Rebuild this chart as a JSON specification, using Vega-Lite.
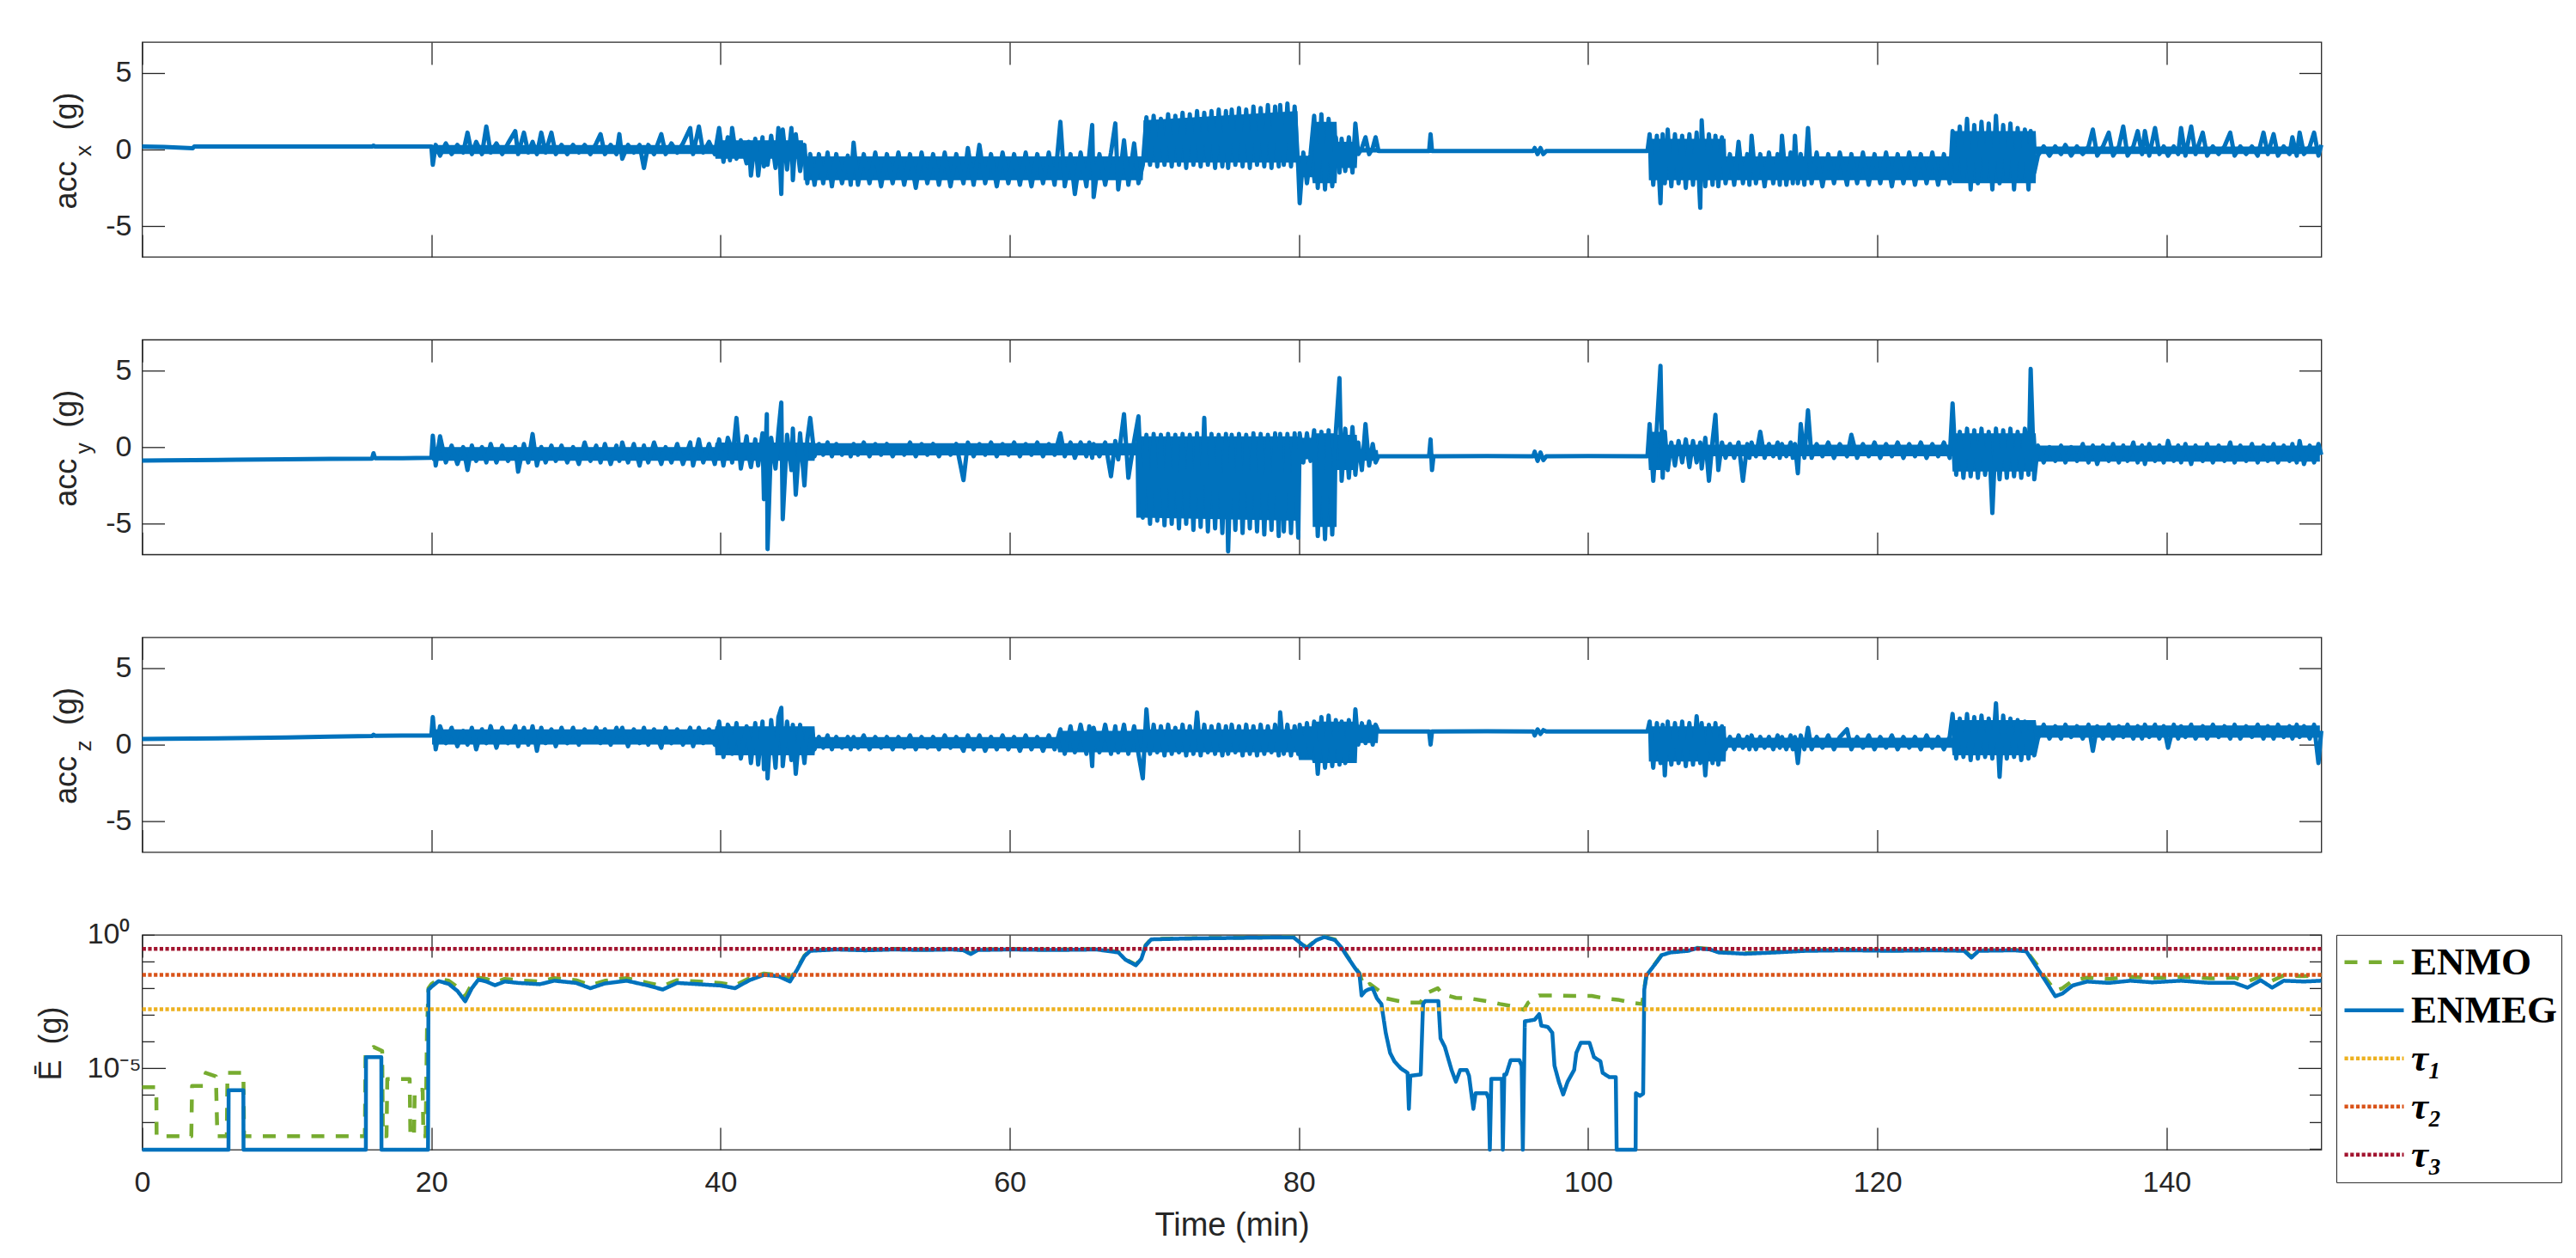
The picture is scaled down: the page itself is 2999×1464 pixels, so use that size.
{
"$schema": "https://vega.github.io/schema/vega-lite/v6.json",
"background": "white",
"autosize": {"type": "pad"},
"padding": {"left": 39.5, "top": 47, "right": 5, "bottom": 5},
"spacing": 96.3,
"bounds": "flush",
"config": {
  "font": "Liberation Sans",
  "view": {"stroke": "#262626", "strokeWidth": 1.3},
  "axis": {"grid": false, "domain": false, "tickColor": "#262626", "tickWidth": 1.3, "labelColor": "#262626", "labelFont": "Liberation Sans", "labelFontSize": 34, "titleFont": "Liberation Sans", "titleColor": "#262626", "titleFontSize": 36, "titleFontWeight": "normal", "labelFlush": false, "labelOverlap": false},
  "legend": {"orient": "none", "legendX": 2554.5, "legendY": 0, "padding": 4, "strokeColor": "#262626", "fillColor": "white", "labelFont": "Liberation Serif", "labelFontSize": 45, "labelFontWeight": "bold", "labelColor": "black", "symbolSize": 4761, "symbolType": "stroke", "clipHeight": 55.5, "rowPadding": 0, "labelOffset": 6, "labelLimit": 400, "symbolOffset": 3, "cornerRadius": 0}
},
"resolve": {"scale": {"color": "independent", "strokeDash": "independent", "strokeWidth": "independent"}, "legend": {"color": "independent", "strokeDash": "independent", "strokeWidth": "independent"}},
"datasets": {
"band": [
{"t":20.05,"xl":-0.3,"xh":0.3,"yl":-0.9,"yh":0,"zl":0,"zh":1},
{"t":39.6,"xl":-0.3,"xh":0.3,"yl":-0.9,"yh":0,"zl":0,"zh":1},
{"t":39.65,"xl":-0.6,"xh":0.6,"yl":-0.9,"yh":0.3,"zl":-0.7,"zh":1.2},
{"t":45.7,"xl":-0.6,"xh":0.6,"yl":-0.9,"yh":0.3,"zl":-0.7,"zh":1.2},
{"t":45.75,"xl":-2,"xh":-0.45,"yl":-0.9,"yh":0.3,"zl":-0.7,"zh":1.2},
{"t":46.5,"xl":-2,"xh":-0.45,"yl":-0.9,"yh":0.3,"zl":-0.7,"zh":1.2},
{"t":46.55,"xl":-2,"xh":-0.45,"yl":-0.55,"yh":0.25,"zl":-0.25,"zh":0.5},
{"t":63.3,"xl":-2,"xh":-0.45,"yl":-0.55,"yh":0.25,"zl":-0.25,"zh":0.5},
{"t":63.35,"xl":-2,"xh":-0.45,"yl":-0.55,"yh":0.25,"zl":-0.5,"zh":0.9},
{"t":68.7,"xl":-2,"xh":-0.45,"yl":-0.55,"yh":0.25,"zl":-0.5,"zh":0.9},
{"t":68.75,"xl":-2,"xh":-0.45,"yl":-4.6,"yh":0.7,"zl":-0.5,"zh":1},
{"t":69.2,"xl":-2,"xh":-0.45,"yl":-4.6,"yh":0.7,"zl":-0.5,"zh":1},
{"t":69.25,"xl":-0.85,"xh":1.9,"yl":-4.6,"yh":0.7,"zl":-0.5,"zh":1},
{"t":79.9,"xl":-0.85,"xh":2.5,"yl":-4.8,"yh":0.7,"zl":-0.5,"zh":1},
{"t":80,"xl":-1.8,"xh":-0.4,"yl":-0.8,"yh":0.6,"zl":-1,"zh":1.2},
{"t":80.9,"xl":-1.8,"xh":-0.4,"yl":-0.8,"yh":0.6,"zl":-1,"zh":1.2},
{"t":80.95,"xl":-2.2,"xh":1.8,"yl":-5.2,"yh":0.9,"zl":-1.2,"zh":1.5},
{"t":82.6,"xl":-2.2,"xh":1.8,"yl":-5.2,"yh":0.9,"zl":-1.2,"zh":1.5},
{"t":82.65,"xl":-1.2,"xh":0.5,"yl":-1.5,"yh":0.8,"zl":-1.2,"zh":1.5},
{"t":84,"xl":-1.2,"xh":0.5,"yl":-1.5,"yh":0.8,"zl":-1.2,"zh":1.5},
{"t":84.05,"xl":-0.2,"xh":0.1,"yl":-0.9,"yh":-0.2,"zl":0.1,"zh":1.3},
{"t":85.45,"xl":-0.2,"xh":0.1,"yl":-0.9,"yh":-0.2,"zl":0.1,"zh":1.3},
{"t":85.5,"xl":-0.1,"xh":-0.1,"yl":-0.6,"yh":-0.6,"zl":0.86,"zh":0.86},
{"t":104.15,"xl":-0.1,"xh":-0.1,"yl":-0.6,"yh":-0.6,"zl":0.86,"zh":0.86},
{"t":104.2,"xl":-2,"xh":0.7,"yl":-1.5,"yh":1,"zl":-1.1,"zh":1.2},
{"t":105.4,"xl":-2,"xh":0.7,"yl":-1.5,"yh":1,"zl":-1.1,"zh":1.2},
{"t":105.45,"xl":-2,"xh":0.7,"yl":-0.6,"yh":0.15,"zl":-1.1,"zh":1.2},
{"t":109.5,"xl":-2,"xh":0.7,"yl":-0.6,"yh":0.15,"zl":-1.1,"zh":1.2},
{"t":109.55,"xl":-2,"xh":-0.45,"yl":-0.6,"yh":0.15,"zl":-0.2,"zh":0.45},
{"t":125.15,"xl":-2,"xh":-0.45,"yl":-0.6,"yh":0.15,"zl":-0.2,"zh":0.45},
{"t":125.2,"xl":-2.2,"xh":1.2,"yl":-1.6,"yh":0.9,"zl":-0.7,"zh":1.6},
{"t":130.95,"xl":-2.2,"xh":1.2,"yl":-1.6,"yh":0.9,"zl":-0.7,"zh":1.6},
{"t":131,"xl":-0.3,"xh":0.2,"yl":-0.95,"yh":0.1,"zl":0.45,"zh":1.25},
{"t":150.6,"xl":-0.3,"xh":0.2,"yl":-0.95,"yh":0.1,"zl":0.45,"zh":1.25}
],
"acc": [
{"t":0,"ax":0.2,"ay":-0.88,"az":0.37},
{"t":1.5,"ax":0.17,"ay":-0.87,"az":0.38},
{"t":3.5,"ax":0.08,"ay":-0.85,"az":0.4},
{"t":3.6,"ax":0.2,"ay":-0.85,"az":0.4},
{"t":6.5,"ax":0.2,"ay":-0.82,"az":0.42},
{"t":10,"ax":0.2,"ay":-0.8,"az":0.47},
{"t":13,"ax":0.2,"ay":-0.77,"az":0.52},
{"t":15.9,"ax":0.2,"ay":-0.75,"az":0.56},
{"t":16,"ax":0.25,"ay":-0.4,"az":0.65},
{"t":16.1,"ax":0.2,"ay":-0.72,"az":0.58},
{"t":18,"ax":0.2,"ay":-0.72,"az":0.6},
{"t":19.9,"ax":0.2,"ay":-0.7,"az":0.6},
{"t":20,"ax":0.2,"ay":-0.7,"az":0.6},
{"t":20.1,"ax":-1,"ay":0.75,"az":1.8},
{"t":20.3,"ax":0.3,"ay":-1.2,"az":-0.3},
{"t":20.6,"ax":-0.4,"ay":0.7,"az":1.2},
{"t":21,"ax":0.4,"ay":-1,"az":0.1},
{"t":21.4,"ax":-0.3,"ay":0.1,"az":1.1},
{"t":21.8,"ax":0.3,"ay":-1.1,"az":-0.1},
{"t":22.2,"ax":-0.2,"ay":0,"az":0.9},
{"t":22.5,"ax":1.1,"ay":-1.5,"az":0},
{"t":22.8,"ax":-0.3,"ay":0.1,"az":1.1},
{"t":23.1,"ax":0.5,"ay":-0.9,"az":-0.3},
{"t":23.5,"ax":-0.3,"ay":0,"az":1},
{"t":23.8,"ax":1.5,"ay":-1,"az":0.1},
{"t":24.1,"ax":-0.2,"ay":0.2,"az":1.2},
{"t":24.5,"ax":0.4,"ay":-1,"az":-0.2},
{"t":24.9,"ax":-0.3,"ay":0.1,"az":1.1},
{"t":25.3,"ax":0.4,"ay":-0.9,"az":0.1},
{"t":25.8,"ax":1.2,"ay":0,"az":1.2},
{"t":26,"ax":-0.3,"ay":-1.6,"az":-0.1},
{"t":26.4,"ax":1.1,"ay":0.2,"az":1.1},
{"t":26.7,"ax":-0.2,"ay":-1,"az":0},
{"t":27,"ax":0.5,"ay":0.85,"az":1.2},
{"t":27.3,"ax":-0.3,"ay":-1.2,"az":-0.4},
{"t":27.6,"ax":1.1,"ay":0,"az":1.1},
{"t":27.9,"ax":-0.2,"ay":-1,"az":0.1},
{"t":28.3,"ax":1.1,"ay":0.1,"az":1},
{"t":28.6,"ax":-0.3,"ay":-0.9,"az":-0.1},
{"t":29,"ax":0.3,"ay":0.1,"az":1.1},
{"t":29.4,"ax":-0.3,"ay":-1,"az":0.1},
{"t":29.8,"ax":0.3,"ay":0,"az":1.1},
{"t":30.2,"ax":-0.2,"ay":-1.1,"az":0},
{"t":30.6,"ax":0.3,"ay":0.3,"az":1},
{"t":31,"ax":-0.3,"ay":-0.9,"az":0.2},
{"t":31.4,"ax":0.4,"ay":0.1,"az":1.1},
{"t":31.7,"ax":1,"ay":-1,"az":0.1},
{"t":32,"ax":-0.3,"ay":0.2,"az":1},
{"t":32.4,"ax":0.3,"ay":-1.1,"az":0},
{"t":32.8,"ax":-0.3,"ay":0.1,"az":1.1},
{"t":33,"ax":1,"ay":-0.9,"az":0.6},
{"t":33.2,"ax":-0.6,"ay":0.3,"az":1.1},
{"t":33.6,"ax":0.3,"ay":-1,"az":-0.1},
{"t":34,"ax":-0.2,"ay":0.2,"az":1},
{"t":34.4,"ax":0.3,"ay":-1.2,"az":0.1},
{"t":34.7,"ax":-1.2,"ay":0.1,"az":1.1},
{"t":35,"ax":0.3,"ay":-1,"az":0},
{"t":35.4,"ax":-0.3,"ay":0.3,"az":1},
{"t":35.9,"ax":1,"ay":-1.1,"az":-0.2},
{"t":36.2,"ax":-0.3,"ay":0,"az":1.1},
{"t":36.6,"ax":0.4,"ay":-1,"az":0.1},
{"t":37,"ax":-0.2,"ay":0.2,"az":1},
{"t":37.4,"ax":0.4,"ay":-1.1,"az":0},
{"t":37.9,"ax":1.4,"ay":0.3,"az":1.1},
{"t":38.1,"ax":-0.3,"ay":-1.2,"az":-0.1},
{"t":38.5,"ax":1.5,"ay":0.5,"az":1.1},
{"t":38.8,"ax":-0.2,"ay":-1,"az":0.1},
{"t":39.2,"ax":0.5,"ay":0.2,"az":1},
{"t":39.6,"ax":-0.3,"ay":-1.1,"az":0},
{"t":39.9,"ax":1.4,"ay":0.5,"az":1.5},
{"t":40.2,"ax":-0.8,"ay":-1.2,"az":-0.8},
{"t":40.5,"ax":0.8,"ay":0.6,"az":1.3},
{"t":40.65,"ax":-0.7,"ay":0.2,"az":1},
{"t":40.8,"ax":1.4,"ay":-1,"az":-0.6},
{"t":41.1,"ax":-0.6,"ay":1.9,"az":1.4},
{"t":41.4,"ax":0.6,"ay":-1.4,"az":-0.9},
{"t":41.8,"ax":-0.9,"ay":0.7,"az":1.2},
{"t":41.95,"ax":0.5,"ay":-0.6,"az":0.4},
{"t":42.1,"ax":-1.7,"ay":-1.3,"az":-1.2},
{"t":42.4,"ax":0.7,"ay":0.5,"az":1.4},
{"t":42.6,"ax":-1.7,"ay":-1.2,"az":-1.3},
{"t":42.9,"ax":0.8,"ay":0.9,"az":1.5},
{"t":43,"ax":-1.1,"ay":-3.4,"az":-1.6},
{"t":43.2,"ax":0.3,"ay":2.15,"az":1},
{"t":43.25,"ax":-1,"ay":-6.65,"az":-2.2},
{"t":43.5,"ax":0.9,"ay":0.6,"az":1.6},
{"t":43.8,"ax":-1.2,"ay":-1.4,"az":-1.5},
{"t":44,"ax":1.4,"ay":1,"az":1.8},
{"t":44.2,"ax":-2.9,"ay":2.9,"az":2.4},
{"t":44.3,"ax":1.3,"ay":-4.7,"az":-1.4},
{"t":44.6,"ax":-1.3,"ay":0.8,"az":1.5},
{"t":44.9,"ax":1.4,"ay":-1.5,"az":-1},
{"t":45,"ax":-2,"ay":1.2,"az":1.3},
{"t":45.2,"ax":1,"ay":-3.1,"az":-1.9},
{"t":45.5,"ax":-1.4,"ay":0.9,"az":1.3},
{"t":45.8,"ax":0.3,"ay":-2.5,"az":-1.2},
{"t":46,"ax":-2.2,"ay":0.5,"az":1},
{"t":46.2,"ax":-0.3,"ay":1.9,"az":0.9},
{"t":46.5,"ax":-2.3,"ay":-0.6,"az":-0.3},
{"t":46.8,"ax":-0.3,"ay":0.2,"az":0.5},
{"t":47.1,"ax":-2.2,"ay":-0.5,"az":-0.2},
{"t":47.4,"ax":-0.2,"ay":0.3,"az":0.6},
{"t":47.7,"ax":-2.4,"ay":-0.6,"az":-0.3},
{"t":48,"ax":-0.3,"ay":0.2,"az":0.5},
{"t":48.4,"ax":-2.2,"ay":-0.5,"az":-0.2},
{"t":48.8,"ax":-0.4,"ay":0.1,"az":0.5},
{"t":49,"ax":-2.3,"ay":-0.6,"az":-0.3},
{"t":49.2,"ax":0.45,"ay":0.2,"az":0.5},
{"t":49.5,"ax":-2.3,"ay":-0.5,"az":-0.2},
{"t":49.9,"ax":-0.3,"ay":0.3,"az":0.6},
{"t":50.3,"ax":-2.2,"ay":-0.6,"az":-0.3},
{"t":50.7,"ax":-0.2,"ay":0.2,"az":0.5},
{"t":51.1,"ax":-2.4,"ay":-0.5,"az":-0.2},
{"t":51.5,"ax":-0.3,"ay":0.2,"az":0.5},
{"t":51.9,"ax":-2.2,"ay":-0.6,"az":-0.3},
{"t":52.3,"ax":-0.2,"ay":0.1,"az":0.5},
{"t":52.7,"ax":-2.3,"ay":-0.5,"az":-0.2},
{"t":53.1,"ax":-0.3,"ay":0.3,"az":0.6},
{"t":53.5,"ax":-2.5,"ay":-0.6,"az":-0.3},
{"t":53.9,"ax":-0.2,"ay":0.2,"az":0.5},
{"t":54.3,"ax":-2.2,"ay":-0.5,"az":-0.2},
{"t":54.7,"ax":-0.3,"ay":0.2,"az":0.5},
{"t":55.1,"ax":-2.3,"ay":-0.6,"az":-0.3},
{"t":55.5,"ax":-0.2,"ay":0.1,"az":0.6},
{"t":55.9,"ax":-2.4,"ay":-0.5,"az":-0.2},
{"t":56.3,"ax":-0.3,"ay":0.2,"az":0.5},
{"t":56.8,"ax":-2.2,"ay":-2.15,"az":-0.4},
{"t":57.1,"ax":0.1,"ay":0.3,"az":0.6},
{"t":57.5,"ax":-2.3,"ay":-0.6,"az":-0.3},
{"t":57.9,"ax":0.3,"ay":0.2,"az":0.6},
{"t":58.3,"ax":-2.2,"ay":-0.5,"az":-0.4},
{"t":58.7,"ax":-0.3,"ay":0.3,"az":0.5},
{"t":59.1,"ax":-2.4,"ay":-0.6,"az":-0.3},
{"t":59.5,"ax":-0.2,"ay":0.2,"az":0.6},
{"t":59.9,"ax":-2.2,"ay":-0.5,"az":-0.3},
{"t":60.3,"ax":-0.3,"ay":0.3,"az":0.5},
{"t":60.7,"ax":-2.3,"ay":-0.6,"az":-0.4},
{"t":61.1,"ax":-0.2,"ay":0.2,"az":0.6},
{"t":61.5,"ax":-2.4,"ay":-0.5,"az":-0.3},
{"t":61.9,"ax":-0.3,"ay":0.3,"az":0.5},
{"t":62.3,"ax":-2.2,"ay":-0.6,"az":-0.4},
{"t":62.7,"ax":-0.2,"ay":0.2,"az":0.6},
{"t":63.1,"ax":-2.3,"ay":-0.5,"az":-0.3},
{"t":63.5,"ax":1.8,"ay":0.9,"az":1},
{"t":63.8,"ax":-2.4,"ay":-0.6,"az":-0.6},
{"t":64.2,"ax":-0.3,"ay":0.3,"az":1.2},
{"t":64.5,"ax":-2.9,"ay":-0.7,"az":-0.5},
{"t":64.9,"ax":-0.2,"ay":0.3,"az":1.3},
{"t":65.3,"ax":-2.4,"ay":-0.6,"az":-0.6},
{"t":65.5,"ax":-0.3,"ay":0.3,"az":1.2},
{"t":65.7,"ax":1.6,"ay":-0.7,"az":-1.4},
{"t":65.8,"ax":-3.1,"ay":0.2,"az":1.1},
{"t":66.2,"ax":-0.3,"ay":-0.6,"az":-0.5},
{"t":66.6,"ax":-2.3,"ay":0.3,"az":1.3},
{"t":67,"ax":-0.2,"ay":-1.9,"az":-0.6},
{"t":67.3,"ax":1.7,"ay":0.4,"az":1.2},
{"t":67.5,"ax":-2.6,"ay":-0.8,"az":-0.5},
{"t":67.9,"ax":0.6,"ay":2.15,"az":1.3},
{"t":68.2,"ax":-2.3,"ay":-2,"az":-0.6},
{"t":68.6,"ax":0.4,"ay":0.4,"az":1.2},
{"t":68.9,"ax":-2.2,"ay":2,"az":-0.6},
{"t":69.2,"ax":-1,"ay":-4.6,"az":-2.2},
{"t":69.45,"ax":2.1,"ay":0.8,"az":2.3},
{"t":69.7,"ax":-1,"ay":-5,"az":-0.6},
{"t":69.95,"ax":2.2,"ay":0.85,"az":1.3},
{"t":70.2,"ax":-1.1,"ay":-4.8,"az":-0.5},
{"t":70.45,"ax":2,"ay":0.8,"az":1.2},
{"t":70.7,"ax":-1,"ay":-5.1,"az":-0.7},
{"t":70.95,"ax":2.3,"ay":0.85,"az":1.3},
{"t":71.2,"ax":-1.1,"ay":-5,"az":-0.6},
{"t":71.45,"ax":2.2,"ay":0.8,"az":1.1},
{"t":71.7,"ax":-1,"ay":-5.3,"az":-0.5},
{"t":71.95,"ax":2.4,"ay":0.85,"az":1.3},
{"t":72.2,"ax":-1.2,"ay":-5,"az":-0.7},
{"t":72.45,"ax":2.3,"ay":0.8,"az":1.2},
{"t":72.7,"ax":-1,"ay":-5.4,"az":-0.6},
{"t":72.95,"ax":2.5,"ay":0.9,"az":2.1},
{"t":73.2,"ax":-1.1,"ay":-5.2,"az":-0.7},
{"t":73.45,"ax":2.4,"ay":1.9,"az":1.3},
{"t":73.7,"ax":-1,"ay":-5.5,"az":-0.5},
{"t":73.95,"ax":2.5,"ay":0.85,"az":1.2},
{"t":74.2,"ax":-1.2,"ay":-5.3,"az":-0.6},
{"t":74.45,"ax":2.6,"ay":0.8,"az":1.3},
{"t":74.7,"ax":-1.1,"ay":-5.6,"az":-0.7},
{"t":74.95,"ax":2.5,"ay":0.85,"az":1.2},
{"t":75.1,"ax":-1.2,"ay":-6.8,"az":-0.6},
{"t":75.35,"ax":2.6,"ay":0.8,"az":1.3},
{"t":75.6,"ax":-1,"ay":-5.4,"az":-0.5},
{"t":75.85,"ax":2.7,"ay":0.85,"az":1.2},
{"t":76.1,"ax":-1.1,"ay":-5.6,"az":-0.7},
{"t":76.35,"ax":2.6,"ay":0.8,"az":1.3},
{"t":76.6,"ax":-1.2,"ay":-5.3,"az":-0.6},
{"t":76.85,"ax":2.8,"ay":0.9,"az":1.2},
{"t":77.1,"ax":-1,"ay":-5.5,"az":-0.7},
{"t":77.35,"ax":2.7,"ay":0.85,"az":1.3},
{"t":77.6,"ax":-1.1,"ay":-5.7,"az":-0.6},
{"t":77.85,"ax":2.9,"ay":0.8,"az":1.2},
{"t":78.1,"ax":-1.2,"ay":-5.4,"az":-0.5},
{"t":78.35,"ax":2.8,"ay":0.9,"az":1.3},
{"t":78.6,"ax":-1.1,"ay":-5.8,"az":-0.7},
{"t":78.7,"ax":2.9,"ay":0.85,"az":2.1},
{"t":78.95,"ax":-1,"ay":-5.5,"az":-0.6},
{"t":79.2,"ax":3,"ay":0.85,"az":1.3},
{"t":79.45,"ax":-1.1,"ay":-5.6,"az":-0.7},
{"t":79.7,"ax":2.8,"ay":0.9,"az":1.2},
{"t":79.95,"ax":-1.2,"ay":-5.9,"az":-0.6},
{"t":80.05,"ax":-3.5,"ay":0.9,"az":1.3},
{"t":80.3,"ax":-0.2,"ay":-1,"az":-0.8},
{"t":80.55,"ax":-2.2,"ay":0.9,"az":1.4},
{"t":80.8,"ax":-0.3,"ay":-0.9,"az":-0.7},
{"t":81.05,"ax":2.2,"ay":1.1,"az":1.5},
{"t":81.3,"ax":-2.5,"ay":-5.8,"az":-1.9},
{"t":81.55,"ax":2.3,"ay":1,"az":1.8},
{"t":81.8,"ax":-2.6,"ay":-6,"az":-1.5},
{"t":82.05,"ax":2,"ay":1.1,"az":1.9},
{"t":82.3,"ax":-2.4,"ay":-5.7,"az":-1.4},
{"t":82.55,"ax":0.8,"ay":1,"az":1.6},
{"t":82.8,"ax":-1.5,"ay":4.5,"az":-1.3},
{"t":82.95,"ax":0.7,"ay":-2.2,"az":1.5},
{"t":83.2,"ax":-1.4,"ay":1.2,"az":-1.2},
{"t":83.45,"ax":0.8,"ay":-2,"az":1.6},
{"t":83.7,"ax":-1.5,"ay":1.3,"az":-1},
{"t":83.9,"ax":1.7,"ay":-1.8,"az":2.3},
{"t":84.1,"ax":-0.3,"ay":0.3,"az":0},
{"t":84.35,"ax":0.1,"ay":-1.5,"az":1.4},
{"t":84.6,"ax":0.8,"ay":1.5,"az":0.1},
{"t":84.85,"ax":-0.3,"ay":-1.2,"az":1.5},
{"t":85.1,"ax":0.1,"ay":0.2,"az":0},
{"t":85.3,"ax":0.8,"ay":-1,"az":1.3},
{"t":85.5,"ax":-0.1,"ay":-0.6,"az":0.86},
{"t":86.5,"ax":-0.1,"ay":-0.6,"az":0.86},
{"t":89,"ax":-0.1,"ay":-0.6,"az":0.86},
{"t":89.1,"ax":1,"ay":0.5,"az":0},
{"t":89.2,"ax":-0.1,"ay":-1.5,"az":0.86},
{"t":89.3,"ax":-0.1,"ay":-0.6,"az":0.86},
{"t":93,"ax":-0.1,"ay":-0.58,"az":0.88},
{"t":96.2,"ax":-0.1,"ay":-0.6,"az":0.86},
{"t":96.3,"ax":0.1,"ay":-0.3,"az":0.6},
{"t":96.5,"ax":-0.3,"ay":-0.9,"az":1},
{"t":96.7,"ax":0.1,"ay":-0.35,"az":0.7},
{"t":96.9,"ax":-0.3,"ay":-0.85,"az":0.95},
{"t":97.1,"ax":-0.1,"ay":-0.6,"az":0.86},
{"t":100,"ax":-0.1,"ay":-0.58,"az":0.86},
{"t":104.1,"ax":-0.1,"ay":-0.6,"az":0.86},
{"t":104.25,"ax":1,"ay":1.5,"az":1.5},
{"t":104.5,"ax":-2.3,"ay":-2.2,"az":-1.5},
{"t":104.75,"ax":0.9,"ay":1.3,"az":1.4},
{"t":105,"ax":-3.5,"ay":5.3,"az":-1.2},
{"t":105.15,"ax":1,"ay":-2,"az":1.3},
{"t":105.3,"ax":-2.2,"ay":1,"az":-2},
{"t":105.5,"ax":1.3,"ay":-1.5,"az":1.5},
{"t":105.75,"ax":-2.4,"ay":0.3,"az":-1.3},
{"t":106,"ax":1,"ay":-1.2,"az":1.4},
{"t":106.25,"ax":-2.2,"ay":0.4,"az":-1.2},
{"t":106.5,"ax":0.9,"ay":-1,"az":1.5},
{"t":106.75,"ax":-2.5,"ay":0.5,"az":-1.4},
{"t":107,"ax":1,"ay":-1.3,"az":1.4},
{"t":107.25,"ax":-2.3,"ay":0.4,"az":-1.3},
{"t":107.5,"ax":1.1,"ay":-1,"az":1.85},
{"t":107.75,"ax":-3.8,"ay":0.3,"az":-1.2},
{"t":107.85,"ax":1.9,"ay":-1.4,"az":1.4},
{"t":108.1,"ax":-2.4,"ay":0.6,"az":-2},
{"t":108.35,"ax":1,"ay":-2.2,"az":1.3},
{"t":108.6,"ax":-2.3,"ay":0.4,"az":-1.2},
{"t":108.8,"ax":0.9,"ay":2.1,"az":1.4},
{"t":109,"ax":-2.4,"ay":-1.5,"az":-1.3},
{"t":109.25,"ax":0.8,"ay":0.3,"az":1.2},
{"t":109.5,"ax":-2.2,"ay":-0.7,"az":-0.3},
{"t":109.8,"ax":-0.3,"ay":0.2,"az":0.5},
{"t":110.1,"ax":-2.3,"ay":-0.7,"az":-0.3},
{"t":110.4,"ax":0.5,"ay":0.3,"az":0.6},
{"t":110.7,"ax":-2.2,"ay":-2.2,"az":-0.2},
{"t":111,"ax":-0.3,"ay":0.2,"az":0.5},
{"t":111.15,"ax":-2.3,"ay":-0.7,"az":-0.3},
{"t":111.3,"ax":0.9,"ay":0.3,"az":0.6},
{"t":111.6,"ax":-2.2,"ay":-0.6,"az":-0.3},
{"t":111.9,"ax":-0.3,"ay":1,"az":0.5},
{"t":112.2,"ax":-2.4,"ay":-0.7,"az":-0.2},
{"t":112.5,"ax":-0.2,"ay":0.2,"az":0.5},
{"t":112.8,"ax":-2.2,"ay":-0.6,"az":-0.3},
{"t":113.1,"ax":-0.3,"ay":0.3,"az":0.6},
{"t":113.25,"ax":-2.3,"ay":-0.7,"az":-0.2},
{"t":113.4,"ax":0.9,"ay":0.2,"az":0.5},
{"t":113.7,"ax":-2.3,"ay":-0.6,"az":-0.3},
{"t":114,"ax":-0.2,"ay":0.3,"az":0.6},
{"t":114.15,"ax":-2.2,"ay":-0.7,"az":-0.3},
{"t":114.3,"ax":0.9,"ay":0.2,"az":0.5},
{"t":114.5,"ax":-2.2,"ay":-1.7,"az":-1.2},
{"t":114.7,"ax":-0.3,"ay":1.5,"az":0.6},
{"t":114.95,"ax":-2.3,"ay":-0.7,"az":-0.3},
{"t":115.2,"ax":1.4,"ay":2.4,"az":1.1},
{"t":115.45,"ax":-2.2,"ay":-0.7,"az":-0.3},
{"t":115.8,"ax":-0.2,"ay":0.2,"az":0.5},
{"t":116.2,"ax":-2.4,"ay":-0.6,"az":-0.2},
{"t":116.6,"ax":-0.3,"ay":0.3,"az":0.6},
{"t":117,"ax":-2.2,"ay":-0.7,"az":-0.3},
{"t":117.4,"ax":-0.2,"ay":0.2,"az":0.5},
{"t":117.9,"ax":-2.3,"ay":-0.6,"az":1},
{"t":118.2,"ax":-0.3,"ay":0.8,"az":-0.3},
{"t":118.6,"ax":-2.2,"ay":-0.7,"az":0.5},
{"t":119,"ax":-0.2,"ay":0.2,"az":-0.2},
{"t":119.4,"ax":-2.3,"ay":-0.6,"az":0.6},
{"t":119.8,"ax":-0.3,"ay":0.3,"az":-0.3},
{"t":120.2,"ax":-2.2,"ay":-0.7,"az":0.5},
{"t":120.6,"ax":-0.2,"ay":0.2,"az":-0.2},
{"t":121,"ax":-2.4,"ay":-0.6,"az":0.6},
{"t":121.4,"ax":-0.3,"ay":0.3,"az":-0.3},
{"t":121.8,"ax":-2.2,"ay":-0.7,"az":0.5},
{"t":122.2,"ax":-0.2,"ay":0.2,"az":-0.2},
{"t":122.6,"ax":-2.3,"ay":-0.6,"az":0.5},
{"t":123,"ax":-0.3,"ay":0.3,"az":-0.3},
{"t":123.4,"ax":-2.2,"ay":-0.7,"az":0.6},
{"t":123.8,"ax":-0.2,"ay":0.2,"az":-0.2},
{"t":124.2,"ax":-2.3,"ay":-0.6,"az":0.5},
{"t":124.6,"ax":-0.3,"ay":0.3,"az":-0.3},
{"t":125,"ax":-2.2,"ay":-0.7,"az":0.5},
{"t":125.2,"ax":1.2,"ay":2.85,"az":2},
{"t":125.45,"ax":-1.5,"ay":-1.8,"az":-0.9},
{"t":125.7,"ax":1.5,"ay":1,"az":1.7},
{"t":125.95,"ax":-2,"ay":-2,"az":-0.8},
{"t":126.2,"ax":2,"ay":1.2,"az":2},
{"t":126.45,"ax":-2.6,"ay":-1.9,"az":-1},
{"t":126.7,"ax":1.6,"ay":1.1,"az":1.8},
{"t":126.95,"ax":-2.2,"ay":-2,"az":-0.9},
{"t":127.2,"ax":1.8,"ay":1.2,"az":1.9},
{"t":127.45,"ax":-2,"ay":-1.8,"az":-0.8},
{"t":127.7,"ax":1.7,"ay":1,"az":1.7},
{"t":127.95,"ax":-2.6,"ay":-4.3,"az":-0.9},
{"t":128.2,"ax":2.2,"ay":1.2,"az":2.7},
{"t":128.45,"ax":-2.2,"ay":-2.1,"az":-2.1},
{"t":128.7,"ax":1.6,"ay":1.1,"az":1.9},
{"t":128.95,"ax":-2,"ay":-2,"az":-0.9},
{"t":129.2,"ax":1.7,"ay":1.2,"az":1.7},
{"t":129.45,"ax":-2.6,"ay":-1.9,"az":-0.8},
{"t":129.7,"ax":1.4,"ay":1,"az":1.6},
{"t":129.95,"ax":-1.8,"ay":-2,"az":-1},
{"t":130.2,"ax":1.3,"ay":1.2,"az":1.5},
{"t":130.45,"ax":-2.6,"ay":-1.8,"az":-0.9},
{"t":130.6,"ax":1.2,"ay":5.1,"az":1.4},
{"t":130.85,"ax":-1.5,"ay":-2.1,"az":-0.7},
{"t":131.1,"ax":-0.4,"ay":0.1,"az":0.4},
{"t":131.5,"ax":0.2,"ay":-1,"az":1.3},
{"t":131.9,"ax":-0.4,"ay":0,"az":0.4},
{"t":132.3,"ax":0.2,"ay":-0.9,"az":1.2},
{"t":132.7,"ax":-0.3,"ay":0.1,"az":0.4},
{"t":133,"ax":0.3,"ay":-1,"az":1.3},
{"t":133.4,"ax":-0.4,"ay":0,"az":0.5},
{"t":133.8,"ax":0.2,"ay":-0.9,"az":1.2},
{"t":134.2,"ax":-0.3,"ay":0.2,"az":0.4},
{"t":134.6,"ax":0.2,"ay":-1,"az":1.3},
{"t":134.9,"ax":1.3,"ay":0.1,"az":-0.4},
{"t":135.2,"ax":-0.4,"ay":-1.1,"az":1.2},
{"t":135.6,"ax":0.2,"ay":0.1,"az":0.4},
{"t":136,"ax":1.1,"ay":-0.9,"az":1.3},
{"t":136.3,"ax":-0.4,"ay":0.2,"az":0.4},
{"t":136.7,"ax":0.2,"ay":-1,"az":1.2},
{"t":137,"ax":1.5,"ay":0.1,"az":0.5},
{"t":137.3,"ax":-0.4,"ay":-0.9,"az":1.3},
{"t":137.7,"ax":0.2,"ay":0.3,"az":0.4},
{"t":138,"ax":1.2,"ay":-1,"az":1.2},
{"t":138.3,"ax":-0.3,"ay":0.1,"az":0.4},
{"t":138.5,"ax":1.2,"ay":-1.1,"az":1.3},
{"t":138.8,"ax":-0.4,"ay":0.2,"az":0.5},
{"t":139.2,"ax":1.4,"ay":-0.9,"az":1.3},
{"t":139.5,"ax":-0.3,"ay":0.1,"az":0.4},
{"t":139.8,"ax":0.2,"ay":-1,"az":1.2},
{"t":140.1,"ax":-0.4,"ay":0.4,"az":-0.2},
{"t":140.5,"ax":0.2,"ay":-0.9,"az":1.3},
{"t":140.8,"ax":-0.3,"ay":0.1,"az":0.4},
{"t":141,"ax":1.4,"ay":-1,"az":1.2},
{"t":141.3,"ax":-0.4,"ay":0.2,"az":0.5},
{"t":141.7,"ax":1.5,"ay":-1.1,"az":1.3},
{"t":142,"ax":-0.3,"ay":0.1,"az":0.4},
{"t":142.5,"ax":1.1,"ay":-0.9,"az":1.2},
{"t":142.8,"ax":-0.4,"ay":0.2,"az":0.4},
{"t":143.2,"ax":0.2,"ay":-1,"az":1.3},
{"t":143.6,"ax":-0.3,"ay":0.1,"az":0.5},
{"t":144,"ax":0.2,"ay":-0.9,"az":1.2},
{"t":144.4,"ax":1.1,"ay":0.3,"az":0.4},
{"t":144.7,"ax":-0.4,"ay":-1,"az":1.3},
{"t":145.1,"ax":0.2,"ay":0.1,"az":0.4},
{"t":145.5,"ax":-0.3,"ay":-0.9,"az":1.2},
{"t":145.9,"ax":0.2,"ay":0.2,"az":0.5},
{"t":146.3,"ax":-0.4,"ay":-1,"az":1.3},
{"t":146.7,"ax":1.1,"ay":0.1,"az":0.4},
{"t":147,"ax":-0.3,"ay":-0.9,"az":1.2},
{"t":147.4,"ax":1,"ay":0.2,"az":0.4},
{"t":147.7,"ax":-0.4,"ay":-1,"az":1.3},
{"t":148.1,"ax":0.2,"ay":0.1,"az":0.5},
{"t":148.5,"ax":-0.3,"ay":-0.9,"az":1.2},
{"t":148.7,"ax":0.8,"ay":0.2,"az":0.4},
{"t":149,"ax":-0.4,"ay":-1,"az":1.3},
{"t":149.2,"ax":1.1,"ay":0.4,"az":0.5},
{"t":149.5,"ax":-0.3,"ay":-1.1,"az":1.2},
{"t":149.9,"ax":0.2,"ay":0.1,"az":0.4},
{"t":150.2,"ax":1.1,"ay":-1,"az":1.3},
{"t":150.5,"ax":-0.4,"ay":0.2,"az":-1.2},
{"t":150.7,"ax":0.3,"ay":-0.5,"az":0.9}
],
"en": [
{"t":0,"s":"ENMO","e":1.95e-6},{"t":0.98,"s":"ENMO","e":1.95e-6},{"t":1,"s":"ENMO","e":2.88e-8},{"t":3.4,"s":"ENMO","e":2.88e-8},{"t":3.45,"s":"ENMO","e":2.19e-6},{"t":4.2,"s":"ENMO","e":2.19e-6},{"t":4.4,"s":"ENMO","e":6.76e-6},{"t":5.1,"s":"ENMO","e":5.01e-6},{"t":5.2,"s":"ENMO","e":2.88e-8},{"t":5.85,"s":"ENMO","e":2.88e-8},{"t":5.9,"s":"ENMO","e":6.76e-6},{"t":7,"s":"ENMO","e":6.76e-6},{"t":7.05,"s":"ENMO","e":2.88e-8},{"t":15.4,"s":"ENMO","e":2.88e-8},{"t":15.45,"s":"ENMO","e":3.89e-5},{"t":16,"s":"ENMO","e":6.31e-5},{"t":16.6,"s":"ENMO","e":4.47e-5},{"t":16.65,"s":"ENMO","e":2.88e-8},{"t":16.9,"s":"ENMO","e":2.88e-8},{"t":16.95,"s":"ENMO","e":3.98e-6},{"t":18.5,"s":"ENMO","e":3.98e-6},{"t":18.55,"s":"ENMO","e":2.88e-8},{"t":18.8,"s":"ENMO","e":2.88e-8},{"t":18.85,"s":"ENMO","e":1.58e-6},{"t":19.4,"s":"ENMO","e":1.58e-6},{"t":19.45,"s":"ENMO","e":2.88e-8},{"t":19.6,"s":"ENMO","e":2.88e-8},{"t":19.7,"s":"ENMO","e":3.16e-4},{"t":19.8,"s":"ENMO","e":1e-2},{"t":20,"s":"ENMO","e":1.41e-2},{"t":20.5,"s":"ENMO","e":2.24e-2},{"t":21.2,"s":"ENMO","e":1.91e-2},{"t":21.8,"s":"ENMO","e":1.12e-2},{"t":22.34,"s":"ENMO","e":5.01e-3},{"t":22.8,"s":"ENMO","e":1.41e-2},{"t":23.25,"s":"ENMO","e":2.51e-2},{"t":23.8,"s":"ENMO","e":2.24e-2},{"t":24.4,"s":"ENMO","e":1.66e-2},{"t":25.07,"s":"ENMO","e":2.24e-2},{"t":26,"s":"ENMO","e":2e-2},{"t":27.5,"s":"ENMO","e":1.78e-2},{"t":28.5,"s":"ENMO","e":2.4e-2},{"t":30,"s":"ENMO","e":2e-2},{"t":31,"s":"ENMO","e":1.32e-2},{"t":32,"s":"ENMO","e":1.91e-2},{"t":33.5,"s":"ENMO","e":2.4e-2},{"t":35,"s":"ENMO","e":1.58e-2},{"t":36,"s":"ENMO","e":1.2e-2},{"t":37,"s":"ENMO","e":2e-2},{"t":38.5,"s":"ENMO","e":1.78e-2},{"t":40,"s":"ENMO","e":1.58e-2},{"t":41,"s":"ENMO","e":1.26e-2},{"t":42,"s":"ENMO","e":2.4e-2},{"t":43,"s":"ENMO","e":3.55e-2},{"t":44,"s":"ENMO","e":3.16e-2},{"t":44.8,"s":"ENMO","e":2.24e-2},{"t":45.3,"s":"ENMO","e":5.62e-2},{"t":45.8,"s":"ENMO","e":0.166},{"t":46.2,"s":"ENMO","e":0.263},{"t":48,"s":"ENMO","e":0.295},{"t":50,"s":"ENMO","e":0.275},{"t":52,"s":"ENMO","e":0.295},{"t":54,"s":"ENMO","e":0.282},{"t":56,"s":"ENMO","e":0.295},{"t":56.8,"s":"ENMO","e":0.275},{"t":57.3,"s":"ENMO","e":0.2},{"t":57.8,"s":"ENMO","e":0.282},{"t":60,"s":"ENMO","e":0.295},{"t":63,"s":"ENMO","e":0.282},{"t":66,"s":"ENMO","e":0.295},{"t":67.51,"s":"ENMO","e":0.229},{"t":68,"s":"ENMO","e":0.123},{"t":68.72,"s":"ENMO","e":7.59e-2},{"t":69.1,"s":"ENMO","e":0.132},{"t":69.4,"s":"ENMO","e":0.417},{"t":69.78,"s":"ENMO","e":0.692},{"t":72,"s":"ENMO","e":0.741},{"t":75,"s":"ENMO","e":0.776},{"t":78,"s":"ENMO","e":0.813},{"t":79.63,"s":"ENMO","e":0.813},{"t":80.54,"s":"ENMO","e":0.331},{"t":81.2,"s":"ENMO","e":0.661},{"t":81.76,"s":"ENMO","e":0.851},{"t":82.5,"s":"ENMO","e":0.661},{"t":82.97,"s":"ENMO","e":0.331},{"t":83.27,"s":"ENMO","e":0.182},{"t":83.88,"s":"ENMO","e":6.03e-2},{"t":84.18,"s":"ENMO","e":3.63e-2},{"t":84.5,"s":"ENMO","e":1.12e-2},{"t":84.9,"s":"ENMO","e":1.45e-2},{"t":85.7,"s":"ENMO","e":6.92e-3},{"t":86,"s":"ENMO","e":4.17e-3},{"t":86.9,"s":"ENMO","e":3.31e-3},{"t":87.7,"s":"ENMO","e":2.88e-3},{"t":88.4,"s":"ENMO","e":2.88e-3},{"t":88.7,"s":"ENMO","e":6.03e-3},{"t":89.6,"s":"ENMO","e":1e-2},{"t":89.9,"s":"ENMO","e":6.03e-3},{"t":90.85,"s":"ENMO","e":4.37e-3},{"t":91.76,"s":"ENMO","e":4.17e-3},{"t":92.97,"s":"ENMO","e":3.31e-3},{"t":93.9,"s":"ENMO","e":2.57e-3},{"t":94.8,"s":"ENMO","e":2.09e-3},{"t":95.55,"s":"ENMO","e":1.55e-3},{"t":95.85,"s":"ENMO","e":2.88e-3},{"t":96.6,"s":"ENMO","e":5.37e-3},{"t":97.8,"s":"ENMO","e":5.37e-3},{"t":99,"s":"ENMO","e":5.13e-3},{"t":100.25,"s":"ENMO","e":5.13e-3},{"t":101.15,"s":"ENMO","e":4.17e-3},{"t":102.06,"s":"ENMO","e":3.72e-3},{"t":102.97,"s":"ENMO","e":2.88e-3},{"t":103.73,"s":"ENMO","e":2.57e-3},{"t":103.88,"s":"ENMO","e":1e-2},{"t":104.03,"s":"ENMO","e":3.16e-2},{"t":104.34,"s":"ENMO","e":5.25e-2},{"t":104.64,"s":"ENMO","e":8.51e-2},{"t":105.09,"s":"ENMO","e":0.182},{"t":105.7,"s":"ENMO","e":0.229},{"t":106.91,"s":"ENMO","e":0.263},{"t":107.52,"s":"ENMO","e":0.324},{"t":108.43,"s":"ENMO","e":0.295},{"t":109.03,"s":"ENMO","e":0.229},{"t":110.85,"s":"ENMO","e":0.204},{"t":112.97,"s":"ENMO","e":0.229},{"t":115.04,"s":"ENMO","e":0.263},{"t":118,"s":"ENMO","e":0.275},{"t":121,"s":"ENMO","e":0.263},{"t":124,"s":"ENMO","e":0.275},{"t":126,"s":"ENMO","e":0.263},{"t":126.5,"s":"ENMO","e":0.151},{"t":127,"s":"ENMO","e":0.263},{"t":129.5,"s":"ENMO","e":0.275},{"t":130.3,"s":"ENMO","e":0.251},{"t":131,"s":"ENMO","e":7.94e-2},{"t":131.6,"s":"ENMO","e":2.51e-2},{"t":132.3,"s":"ENMO","e":7.94e-3},{"t":132.8,"s":"ENMO","e":1e-2},{"t":133.5,"s":"ENMO","e":1.91e-2},{"t":134.5,"s":"ENMO","e":2.51e-2},{"t":136,"s":"ENMO","e":2.24e-2},{"t":137.5,"s":"ENMO","e":2.69e-2},{"t":139,"s":"ENMO","e":2.4e-2},{"t":141,"s":"ENMO","e":2.69e-2},{"t":143,"s":"ENMO","e":2.34e-2},{"t":144.7,"s":"ENMO","e":2.51e-2},{"t":145.6,"s":"ENMO","e":1.78e-2},{"t":146.5,"s":"ENMO","e":2.82e-2},{"t":147.3,"s":"ENMO","e":1.91e-2},{"t":148.1,"s":"ENMO","e":3.02e-2},{"t":149.5,"s":"ENMO","e":2.82e-2},{"t":150.7,"s":"ENMO","e":3.16e-2},
{"t":0,"s":"ENMEG","e":9e-9},{"t":5.97,"s":"ENMEG","e":9e-9},{"t":5.98,"s":"ENMEG","e":1.51e-6},{"t":7,"s":"ENMEG","e":1.51e-6},{"t":7.01,"s":"ENMEG","e":9e-9},{"t":15.47,"s":"ENMEG","e":9e-9},{"t":15.48,"s":"ENMEG","e":2.63e-5},{"t":16.54,"s":"ENMEG","e":2.63e-5},{"t":16.55,"s":"ENMEG","e":9e-9},{"t":19.77,"s":"ENMEG","e":9e-9},{"t":19.8,"s":"ENMEG","e":8.71e-3},{"t":20,"s":"ENMEG","e":1.12e-2},{"t":20.5,"s":"ENMEG","e":1.86e-2},{"t":21.2,"s":"ENMEG","e":1.45e-2},{"t":21.8,"s":"ENMEG","e":7.94e-3},{"t":22.34,"s":"ENMEG","e":3.24e-3},{"t":22.8,"s":"ENMEG","e":1e-2},{"t":23.25,"s":"ENMEG","e":2.09e-2},{"t":23.8,"s":"ENMEG","e":1.78e-2},{"t":24.4,"s":"ENMEG","e":1.29e-2},{"t":25.07,"s":"ENMEG","e":1.78e-2},{"t":26,"s":"ENMEG","e":1.58e-2},{"t":27.5,"s":"ENMEG","e":1.41e-2},{"t":28.5,"s":"ENMEG","e":1.91e-2},{"t":30,"s":"ENMEG","e":1.58e-2},{"t":31,"s":"ENMEG","e":1e-2},{"t":32,"s":"ENMEG","e":1.51e-2},{"t":33.5,"s":"ENMEG","e":1.91e-2},{"t":35,"s":"ENMEG","e":1.26e-2},{"t":36,"s":"ENMEG","e":8.91e-3},{"t":37,"s":"ENMEG","e":1.58e-2},{"t":38.5,"s":"ENMEG","e":1.41e-2},{"t":40,"s":"ENMEG","e":1.26e-2},{"t":41,"s":"ENMEG","e":1e-2},{"t":42,"s":"ENMEG","e":2e-2},{"t":43,"s":"ENMEG","e":3.16e-2},{"t":44,"s":"ENMEG","e":2.82e-2},{"t":44.8,"s":"ENMEG","e":1.78e-2},{"t":45.3,"s":"ENMEG","e":5.01e-2},{"t":45.8,"s":"ENMEG","e":0.158},{"t":46.2,"s":"ENMEG","e":0.251},{"t":48,"s":"ENMEG","e":0.282},{"t":50,"s":"ENMEG","e":0.263},{"t":52,"s":"ENMEG","e":0.282},{"t":54,"s":"ENMEG","e":0.269},{"t":56,"s":"ENMEG","e":0.282},{"t":56.8,"s":"ENMEG","e":0.263},{"t":57.3,"s":"ENMEG","e":0.191},{"t":57.8,"s":"ENMEG","e":0.269},{"t":60,"s":"ENMEG","e":0.282},{"t":63,"s":"ENMEG","e":0.269},{"t":66,"s":"ENMEG","e":0.282},{"t":67.51,"s":"ENMEG","e":0.219},{"t":68,"s":"ENMEG","e":0.117},{"t":68.72,"s":"ENMEG","e":7.24e-2},{"t":69.1,"s":"ENMEG","e":0.126},{"t":69.4,"s":"ENMEG","e":0.398},{"t":69.78,"s":"ENMEG","e":0.676},{"t":72,"s":"ENMEG","e":0.724},{"t":75,"s":"ENMEG","e":0.759},{"t":78,"s":"ENMEG","e":0.794},{"t":79.63,"s":"ENMEG","e":0.794},{"t":80.54,"s":"ENMEG","e":0.316},{"t":81.2,"s":"ENMEG","e":0.631},{"t":81.76,"s":"ENMEG","e":0.832},{"t":82.5,"s":"ENMEG","e":0.631},{"t":82.97,"s":"ENMEG","e":0.316},{"t":83.27,"s":"ENMEG","e":0.174},{"t":83.88,"s":"ENMEG","e":5.62e-2},{"t":84.18,"s":"ENMEG","e":3.47e-2},{"t":84.33,"s":"ENMEG","e":5.37e-3},{"t":84.6,"s":"ENMEG","e":7.94e-3},{"t":84.79,"s":"ENMEG","e":8.91e-3},{"t":85.09,"s":"ENMEG","e":1e-2},{"t":85.39,"s":"ENMEG","e":4.17e-3},{"t":85.7,"s":"ENMEG","e":2.57e-3},{"t":86,"s":"ENMEG","e":2.14e-4},{"t":86.3,"s":"ENMEG","e":3.8e-5},{"t":86.6,"s":"ENMEG","e":1.82e-5},{"t":87.06,"s":"ENMEG","e":9.77e-6},{"t":87.51,"s":"ENMEG","e":6.76e-6},{"t":87.6,"s":"ENMEG","e":3.02e-7},{"t":87.7,"s":"ENMEG","e":5.25e-6},{"t":88.42,"s":"ENMEG","e":5.89e-6},{"t":88.58,"s":"ENMEG","e":2.57e-3},{"t":88.73,"s":"ENMEG","e":3.31e-3},{"t":89.64,"s":"ENMEG","e":3.31e-3},{"t":89.79,"s":"ENMEG","e":1.32e-4},{"t":90.09,"s":"ENMEG","e":6.31e-5},{"t":90.55,"s":"ENMEG","e":8.71e-6},{"t":90.85,"s":"ENMEG","e":3.16e-6},{"t":91.15,"s":"ENMEG","e":8.71e-6},{"t":91.6,"s":"ENMEG","e":8.71e-6},{"t":91.76,"s":"ENMEG","e":5.25e-6},{"t":92.06,"s":"ENMEG","e":3.02e-7},{"t":92.21,"s":"ENMEG","e":1.17e-6},{"t":92.97,"s":"ENMEG","e":1.17e-6},{"t":93.12,"s":"ENMEG","e":7.24e-7},{"t":93.2,"s":"ENMEG","e":9e-9},{"t":93.3,"s":"ENMEG","e":4.07e-6},{"t":94.03,"s":"ENMEG","e":4.07e-6},{"t":94.1,"s":"ENMEG","e":9e-9},{"t":94.2,"s":"ENMEG","e":5.89e-6},{"t":94.33,"s":"ENMEG","e":5.89e-6},{"t":94.64,"s":"ENMEG","e":2.04e-5},{"t":95.24,"s":"ENMEG","e":2.04e-5},{"t":95.4,"s":"ENMEG","e":1.26e-5},{"t":95.48,"s":"ENMEG","e":9e-9},{"t":95.62,"s":"ENMEG","e":5.75e-4},{"t":96.3,"s":"ENMEG","e":6.61e-4},{"t":96.61,"s":"ENMEG","e":1.07e-3},{"t":96.76,"s":"ENMEG","e":3.98e-4},{"t":97.21,"s":"ENMEG","e":3.55e-4},{"t":97.52,"s":"ENMEG","e":2.14e-4},{"t":97.67,"s":"ENMEG","e":1.26e-5},{"t":97.97,"s":"ENMEG","e":3.16e-6},{"t":98.27,"s":"ENMEG","e":1.05e-6},{"t":98.58,"s":"ENMEG","e":3.16e-6},{"t":99.03,"s":"ENMEG","e":8.71e-6},{"t":99.18,"s":"ENMEG","e":3.8e-5},{"t":99.49,"s":"ENMEG","e":9.12e-5},{"t":100.09,"s":"ENMEG","e":9.12e-5},{"t":100.4,"s":"ENMEG","e":2.63e-5},{"t":100.85,"s":"ENMEG","e":1.82e-5},{"t":101,"s":"ENMEG","e":6.76e-6},{"t":101.46,"s":"ENMEG","e":4.68e-6},{"t":101.91,"s":"ENMEG","e":4.68e-6},{"t":101.97,"s":"ENMEG","e":9e-9},{"t":103.28,"s":"ENMEG","e":9e-9},{"t":103.3,"s":"ENMEG","e":1.17e-6},{"t":103.58,"s":"ENMEG","e":9.33e-7},{"t":103.8,"s":"ENMEG","e":1.12e-6},{"t":103.88,"s":"ENMEG","e":8.91e-3},{"t":104.03,"s":"ENMEG","e":3.02e-2},{"t":104.34,"s":"ENMEG","e":5.01e-2},{"t":104.64,"s":"ENMEG","e":8.13e-2},{"t":105.09,"s":"ENMEG","e":0.174},{"t":105.7,"s":"ENMEG","e":0.219},{"t":106.91,"s":"ENMEG","e":0.251},{"t":107.52,"s":"ENMEG","e":0.316},{"t":108.43,"s":"ENMEG","e":0.282},{"t":109.03,"s":"ENMEG","e":0.219},{"t":110.85,"s":"ENMEG","e":0.195},{"t":112.97,"s":"ENMEG","e":0.219},{"t":115.04,"s":"ENMEG","e":0.251},{"t":118,"s":"ENMEG","e":0.263},{"t":121,"s":"ENMEG","e":0.251},{"t":124,"s":"ENMEG","e":0.263},{"t":126,"s":"ENMEG","e":0.251},{"t":126.5,"s":"ENMEG","e":0.141},{"t":127,"s":"ENMEG","e":0.251},{"t":129.5,"s":"ENMEG","e":0.263},{"t":130.3,"s":"ENMEG","e":0.24},{"t":131,"s":"ENMEG","e":6.31e-2},{"t":131.6,"s":"ENMEG","e":2e-2},{"t":132.3,"s":"ENMEG","e":5.01e-3},{"t":132.8,"s":"ENMEG","e":6.31e-3},{"t":133.5,"s":"ENMEG","e":1.26e-2},{"t":134.5,"s":"ENMEG","e":1.78e-2},{"t":136,"s":"ENMEG","e":1.58e-2},{"t":137.5,"s":"ENMEG","e":1.91e-2},{"t":139,"s":"ENMEG","e":1.66e-2},{"t":141,"s":"ENMEG","e":1.91e-2},{"t":143,"s":"ENMEG","e":1.58e-2},{"t":144.7,"s":"ENMEG","e":1.58e-2},{"t":145.6,"s":"ENMEG","e":1.05e-2},{"t":146.5,"s":"ENMEG","e":2e-2},{"t":147.3,"s":"ENMEG","e":1.05e-2},{"t":148.1,"s":"ENMEG","e":1.91e-2},{"t":149.5,"s":"ENMEG","e":1.78e-2},{"t":150.7,"s":"ENMEG","e":1.91e-2}
],
"tau": [{"s":"τ₁","e":0.00162},{"s":"τ₂","e":0.0316},{"s":"τ₃","e":0.295}]
},
"vconcat": [
{
 "width": 2537, "height": 250,
 "layer": [
  {"data": {"name": "band"},
   "mark": {"type": "area", "color": "#0072BD", "opacity": 1},
   "encoding": {
    "x": {"field": "t", "type": "quantitative", "scale": {"domain": [0, 150.7], "nice": false, "zero": false}, "axis": null},
    "y": {"field": "xl", "type": "quantitative", "scale": {"domain": [-7, 7], "nice": false, "zero": false}, "axis": null},
    "y2": {"field": "xh"}}},
  {"data": {"name": "acc"},
   "mark": {"type": "line", "color": "#0072BD", "strokeWidth": 5, "strokeJoin": "round"},
   "encoding": {
    "x": {"field": "t", "type": "quantitative", "scale": {"domain": [0, 150.7], "nice": false, "zero": false},
          "axis": {"orient": "bottom", "values": [0,20,40,60,80,100,120,140], "labels": false, "tickSize": -26, "title": null}},
    "y": {"field": "ax", "type": "quantitative", "scale": {"domain": [-7, 7], "nice": false, "zero": false},
          "axis": {"orient": "left", "values": [-5,0,5], "tickSize": -26, "labelPadding": 38.5, "labelExpr": "'' + datum.value", "labelBaseline": "middle", "title": "acc\u2003(g)", "titleX": -77.5, "titleY": 126, "titleAngle": 270, "titleBaseline": "alphabetic", "titleAlign": "center"}}}},
  {"data": {"values": [{"a": 1}]},
   "mark": {"type": "point", "opacity": 0},
   "encoding": {
    "x": {"datum": 0, "type": "quantitative", "scale": {"domain": [0, 150.7], "nice": false, "zero": false}, "axis": {"orient": "top", "values": [0,20,40,60,80,100,120,140], "labels": false, "tickSize": -26, "title": null}},
    "y": {"datum": 0, "type": "quantitative", "scale": {"domain": [-7, 7], "nice": false, "zero": false}, "axis": {"orient": "right", "values": [-5,0,5], "labels": false, "tickSize": -26, "title": "x", "titleX": -2597.5, "titleY": 126, "titleAngle": 270, "titleBaseline": "alphabetic", "titleAlign": "center", "titleFontSize": 26}}}}
 ],
 "resolve": {"axis": {"x": "independent", "y": "independent"}}
},
{
 "width": 2537, "height": 250,
 "layer": [
  {"data": {"name": "band"},
   "mark": {"type": "area", "color": "#0072BD", "opacity": 1},
   "encoding": {
    "x": {"field": "t", "type": "quantitative", "scale": {"domain": [0, 150.7], "nice": false, "zero": false}, "axis": null},
    "y": {"field": "yl", "type": "quantitative", "scale": {"domain": [-7, 7], "nice": false, "zero": false}, "axis": null},
    "y2": {"field": "yh"}}},
  {"data": {"name": "acc"},
   "mark": {"type": "line", "color": "#0072BD", "strokeWidth": 5, "strokeJoin": "round"},
   "encoding": {
    "x": {"field": "t", "type": "quantitative", "scale": {"domain": [0, 150.7], "nice": false, "zero": false},
          "axis": {"orient": "bottom", "values": [0,20,40,60,80,100,120,140], "labels": false, "tickSize": -26, "title": null}},
    "y": {"field": "ay", "type": "quantitative", "scale": {"domain": [-7, 7], "nice": false, "zero": false},
          "axis": {"orient": "left", "values": [-5,0,5], "tickSize": -26, "labelPadding": 38.5, "labelExpr": "'' + datum.value", "labelBaseline": "middle", "title": "acc\u2003(g)", "titleX": -77.5, "titleY": 126, "titleAngle": 270, "titleBaseline": "alphabetic", "titleAlign": "center"}}}},
  {"data": {"values": [{"a": 1}]},
   "mark": {"type": "point", "opacity": 0},
   "encoding": {
    "x": {"datum": 0, "type": "quantitative", "scale": {"domain": [0, 150.7], "nice": false, "zero": false}, "axis": {"orient": "top", "values": [0,20,40,60,80,100,120,140], "labels": false, "tickSize": -26, "title": null}},
    "y": {"datum": 0, "type": "quantitative", "scale": {"domain": [-7, 7], "nice": false, "zero": false}, "axis": {"orient": "right", "values": [-5,0,5], "labels": false, "tickSize": -26, "title": "y", "titleX": -2597.5, "titleY": 126, "titleAngle": 270, "titleBaseline": "alphabetic", "titleAlign": "center", "titleFontSize": 26}}}}
 ],
 "resolve": {"axis": {"x": "independent", "y": "independent"}}
},
{
 "width": 2537, "height": 250,
 "layer": [
  {"data": {"name": "band"},
   "mark": {"type": "area", "color": "#0072BD", "opacity": 1},
   "encoding": {
    "x": {"field": "t", "type": "quantitative", "scale": {"domain": [0, 150.7], "nice": false, "zero": false}, "axis": null},
    "y": {"field": "zl", "type": "quantitative", "scale": {"domain": [-7, 7], "nice": false, "zero": false}, "axis": null},
    "y2": {"field": "zh"}}},
  {"data": {"name": "acc"},
   "mark": {"type": "line", "color": "#0072BD", "strokeWidth": 5, "strokeJoin": "round"},
   "encoding": {
    "x": {"field": "t", "type": "quantitative", "scale": {"domain": [0, 150.7], "nice": false, "zero": false},
          "axis": {"orient": "bottom", "values": [0,20,40,60,80,100,120,140], "labels": false, "tickSize": -26, "title": null}},
    "y": {"field": "az", "type": "quantitative", "scale": {"domain": [-7, 7], "nice": false, "zero": false},
          "axis": {"orient": "left", "values": [-5,0,5], "tickSize": -26, "labelPadding": 38.5, "labelExpr": "'' + datum.value", "labelBaseline": "middle", "title": "acc\u2003(g)", "titleX": -77.5, "titleY": 126, "titleAngle": 270, "titleBaseline": "alphabetic", "titleAlign": "center"}}}},
  {"data": {"values": [{"a": 1}]},
   "mark": {"type": "point", "opacity": 0},
   "encoding": {
    "x": {"datum": 0, "type": "quantitative", "scale": {"domain": [0, 150.7], "nice": false, "zero": false}, "axis": {"orient": "top", "values": [0,20,40,60,80,100,120,140], "labels": false, "tickSize": -26, "title": null}},
    "y": {"datum": 0, "type": "quantitative", "scale": {"domain": [-7, 7], "nice": false, "zero": false}, "axis": {"orient": "right", "values": [-5,0,5], "labels": false, "tickSize": -26, "title": "z", "titleX": -2597.5, "titleY": 126, "titleAngle": 270, "titleBaseline": "alphabetic", "titleAlign": "center", "titleFontSize": 26}}}}
 ],
 "resolve": {"axis": {"x": "independent", "y": "independent"}}
},
{
 "width": 2537, "height": 250,
 "layer": [
  {"data": {"name": "en"},
   "mark": {"type": "line", "strokeJoin": "round"},
   "encoding": {
    "x": {"field": "t", "type": "quantitative", "scale": {"domain": [0, 150.7], "nice": false, "zero": false},
          "axis": {"orient": "bottom", "values": [0,20,40,60,80,100,120,140], "tickSize": -26, "labelPadding": 47.5, "title": "Time (min)", "titleFontSize": 38, "titleX": 1268.5, "titleY": 100, "titleBaseline": "alphabetic", "titleAlign": "center"}},
    "y": {"field": "e", "type": "quantitative", "scale": {"type": "log", "domain": [9e-9, 1], "nice": false},
          "axis": {"orient": "left", "values": [1e-8,1e-7,1e-6,1e-5,1e-4,1e-3,1e-2,1e-1,1], "tickSize": {"condition": {"test": "datum.value > 5e-6 && datum.value < 2e-5", "value": -27}, "value": -14}, "labelPadding": 28.5, "labelBaseline": "middle", "labelExpr": "datum.value > 0.5 ? '10⁰' : (datum.value > 5e-6 && datum.value < 2e-5 ? '10⁻⁵' : '')", "title": "Ē\u2002(g)", "titleX": -95.5, "titleY": 126, "titleAngle": 270, "titleBaseline": "alphabetic", "titleAlign": "center"}},
    "color": {"field": "s", "type": "nominal", "scale": {"domain": ["ENMO","ENMEG","τ₁","τ₂","τ₃"], "range": ["#77AC30","#0072BD","#EDB120","#D95319","#A2142F"]}, "legend": {"title": null, "encode": {"labels": {"update": {"fontStyle": {"signal": "indexof(datum.label, 'τ') === 0 ? 'italic' : 'normal'"}}}}}},
    "strokeDash": {"field": "s", "type": "nominal", "scale": {"domain": ["ENMO","ENMEG","τ₁","τ₂","τ₃"], "range": [[15,13.3],[1,0],[4.2,2.5],[4.2,2.5],[4.2,2.5]]}, "legend": {"title": null}},
    "strokeWidth": {"field": "s", "type": "nominal", "scale": {"domain": ["ENMO","ENMEG","τ₁","τ₂","τ₃"], "range": [4.5,4.5,3.3,3.3,3.3]}, "legend": {"title": null}}
   }},
  {"data": {"name": "tau"},
   "mark": {"type": "rule"},
   "encoding": {
    "y": {"field": "e", "type": "quantitative", "axis": null},
    "color": {"field": "s", "type": "nominal", "legend": {"title": null}},
    "strokeDash": {"field": "s", "type": "nominal", "legend": {"title": null}},
    "strokeWidth": {"field": "s", "type": "nominal", "legend": {"title": null}}
   }},
  {"data": {"values": [{"a": 1}]},
   "mark": {"type": "point", "opacity": 0},
   "encoding": {
    "x": {"datum": 0, "type": "quantitative", "axis": {"orient": "top", "values": [0,20,40,60,80,100,120,140], "labels": false, "tickSize": -26, "title": null}},
    "y": {"datum": 0.001, "type": "quantitative", "axis": {"orient": "right", "values": [1e-8,1e-7,1e-6,1e-5,1e-4,1e-3,1e-2,1e-1,1], "labels": false, "tickSize": {"condition": {"test": "datum.value > 5e-6 && datum.value < 2e-5", "value": -27}, "value": -14}, "title": null}}}}
 ],
 "resolve": {"axis": {"x": "independent", "y": "independent"}}
}
]
}
